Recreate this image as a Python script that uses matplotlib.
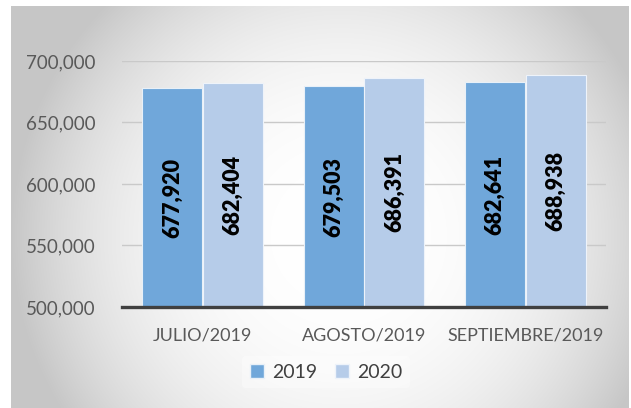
import numpy as np
import matplotlib
matplotlib.use("Agg")
import matplotlib.pyplot as plt
from matplotlib.patches import Patch

plt.rcParams['font.family'] = ['Lato', 'DejaVu Sans']

categories = ["JULIO/2019", "AGOSTO/2019", "SEPTIEMBRE/2019"]
series_names = ["2019", "2020"]
values_2019 = [677920, 679503, 682641]
values_2020 = [682404, 686391, 688938]
yticks = [500000, 550000, 600000, 650000, 700000]

W, H = 631, 408
fig = plt.figure(figsize=(W / 100, H / 100), dpi=100)
fig.patch.set_facecolor("white")

# background panel with radial gradient
bg = fig.add_axes([11 / W, 0, (629 - 11) / W, (H - 6) / H])
bg.set_axis_off()
pw, ph = 618, 402
xx, yy = np.meshgrid(np.arange(pw) + 11, np.arange(ph) + 6)
cx, cy = 340, 235
d = np.sqrt((xx - cx) ** 2 + (yy - cy) ** 2)
t = np.clip(d / 330, 0, 1) ** 2.6
val = (255 - 57 * t) / 255.0
img = np.dstack([val, val, val])
bg.imshow(img, aspect="auto", extent=[0, 1, 0, 1], origin="upper")
bg.set_xlim(0, 1)
bg.set_ylim(0, 1)

ax = fig.add_axes([122 / W, 1 - 307 / H, (606 - 122) / W, (307 - 61) / H])
ax.patch.set_alpha(0)

c19 = "#70a7da"
c20 = "#b6cce9"
x = np.arange(len(categories))
bw = 0.372
off = 0.188
b1 = ax.bar(x - off, values_2019, bw, color=c19, edgecolor="#e8f0f8", linewidth=0.8, zorder=3)
b2 = ax.bar(x + off, values_2020, bw, color=c20, edgecolor="#eef3fa", linewidth=0.8, zorder=3)

ymin, ymax = 500000, 700000
ax.set_ylim(ymin, ymax)
ax.set_xlim(-0.5, len(categories) - 0.5)

for bars, vals in ((b1, values_2019), (b2, values_2020)):
    for b, v in zip(bars, vals):
        ax.text(b.get_x() + b.get_width() / 2, (ymin + v) / 2, f"{v:,}",
                rotation=90, ha="center", va="center", fontsize=15.5,
                fontweight="heavy", color="black", zorder=4)

ax.set_yticks(yticks)
ax.set_yticklabels([f"{v:,}" for v in yticks])
ax.yaxis.grid(True, color="#c9c9c9", linewidth=1.0, zorder=0)
ax.set_axisbelow(True)
ax.set_xticks(x)
ax.set_xticklabels(categories)
ax.tick_params(axis="both", length=0, colors="#595959")
ax.tick_params(axis="y", pad=19, labelsize=13.5)
ax.tick_params(axis="x", pad=15, labelsize=13)
for s in ("top", "right", "left"):
    ax.spines[s].set_visible(False)
ax.spines["bottom"].set_color("#404040")
ax.spines["bottom"].set_linewidth(2.4)
ax.spines["bottom"].set_zorder(5)

handles = [Patch(facecolor=c19, edgecolor="#e8f0f8"), Patch(facecolor=c20, edgecolor="#eef3fa")]
leg = fig.legend(handles, series_names, loc="center", bbox_to_anchor=(326 / W, 1 - 372 / H),
                 ncol=2, frameon=True, fontsize=14, handlelength=0.75, handleheight=0.75,
                 handletextpad=0.4, columnspacing=0.9, borderpad=0.4)
leg.get_frame().set_facecolor("white")
leg.get_frame().set_alpha(0.35)
leg.get_frame().set_edgecolor("none")
for t_ in leg.get_texts():
    t_.set_color("#404040")

fig.savefig("out.png", dpi=100)
